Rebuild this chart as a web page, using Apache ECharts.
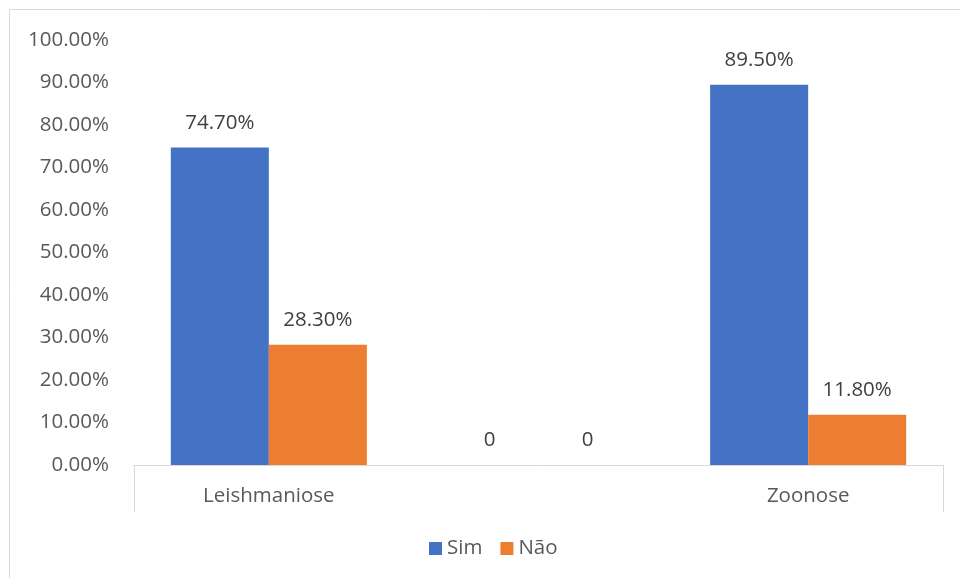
<!DOCTYPE html>
<html><head><meta charset="utf-8">
<script src="https://cdn.jsdelivr.net/npm/echarts@6/dist/echarts.min.js"></script>
<style>html,body{margin:0;padding:0;background:#fff}#c{width:960px;height:578px}</style>
</head><body><div id="c"></div>
<script>
const categories = ['Leishmaniose', '', 'Zoonose'];
const simValues = [74.7, 0, 89.5];
const naoValues = [28.3, 0, 11.8];
const seriesNames = ['Sim', 'Não'];
const yTicks = [0, 10, 20, 30, 40, 50, 60, 70, 80, 90, 100];

const FONT = '"Open Sans", Lato, sans-serif';
const FS = 20.5;
const fmt = v => (v === 0 ? '0' : v.toFixed(2) + '%');
const chart = echarts.init(document.getElementById('c'), null, {renderer: 'canvas'});
const labelCfg = {
  show: true, position: 'top', distance: 14,
  color: '#404040', fontSize: FS, fontFamily: FONT,
  formatter: p => fmt(p.value)
};
chart.setOption({
  animation: false,
  graphic: [{
    type: 'rect', silent: true, z: -10,
    shape: {x: 9.5, y: 9.5, width: 1000, height: 1000},
    style: {fill: 'none', stroke: '#d9d9d9', lineWidth: 1}
  }],
  grid: {left: 134, right: 17, top: 40, bottom: 113, containLabel: false},
  legend: {
    data: seriesNames, top: 538, left: 429, padding: 0,
    itemWidth: 13, itemHeight: 13, itemGap: 18, icon: 'rect',
    textStyle: {color: '#595959', fontSize: FS, fontFamily: FONT}
  },
  xAxis: {
    type: 'category', data: categories,
    axisLine: {show: true, lineStyle: {color: '#d9d9d9', width: 1}},
    axisTick: {show: true, length: 47, interval: (i) => i === 0, lineStyle: {color: '#d9d9d9'}},
    axisLabel: {interval: 0, margin: 21, color: '#595959', fontSize: FS, fontFamily: FONT}
  },
  yAxis: {
    type: 'value', min: yTicks[0], max: yTicks[yTicks.length - 1], interval: 10,
    axisLine: {show: false}, axisTick: {show: false}, splitLine: {show: false},
    axisLabel: {margin: 25, color: '#595959', fontSize: FS, fontFamily: FONT,
      formatter: v => v.toFixed(2) + '%'}
  },
  series: [
    {name: seriesNames[0], type: 'bar', data: simValues, barGap: '0%', barCategoryGap: '27.3%',
     itemStyle: {color: '#4472C4'}, label: labelCfg},
    {name: seriesNames[1], type: 'bar', data: naoValues, barGap: '0%', barCategoryGap: '27.3%',
     itemStyle: {color: '#ED7D31'}, label: labelCfg}
  ]
});
</script></body></html>
